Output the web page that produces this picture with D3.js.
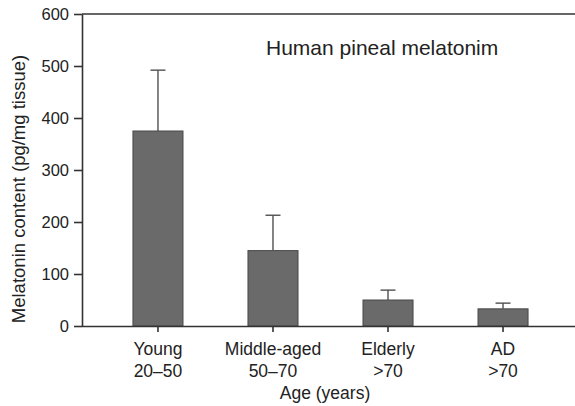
<!DOCTYPE html>
<html>
<head>
<meta charset="utf-8">
<script src="https://cdn.jsdelivr.net/npm/d3@7"></script>
<style>
  html, body { margin: 0; padding: 0; background: #fff; }
  svg { display: block; }
  text { font-family: "Liberation Sans", Arial, Helvetica, sans-serif; fill: #222; }
</style>
</head>
<body>
<svg id="chart" width="575" height="406"></svg>
<script>
// Pineal melatonin content by age group
const groups = ["Young", "Middle-aged", "Elderly", "AD"];
const ageRanges = ["20\u201350", "50\u201370", ">70", ">70"];
const means = [375, 145, 50, 33];
const errorTops = [492, 213, 69, 44];
const yTicks = [0, 100, 200, 300, 400, 500, 600];

const svg = d3.select("#chart");
const plotLeft = 82, plotRight = 579, plotTop = 14, plotBottom = 326;

const x = d3.scaleBand()
  .domain(groups)
  .range([plotLeft, plotRight])
  .paddingInner(0.565)
  .paddingOuter(0.443);

const y = d3.scaleLinear().domain([0, 600]).range([plotBottom, plotTop]);

const axisColor = "#333";

// frame: top rule
svg.append("line")
  .attr("x1", plotLeft).attr("x2", 575)
  .attr("y1", y(600)).attr("y2", y(600))
  .attr("stroke", axisColor).attr("stroke-width", 1.6);

// bars
svg.selectAll("rect.bar")
  .data(groups)
  .join("rect")
  .attr("class", "bar")
  .attr("x", d => x(d))
  .attr("width", x.bandwidth())
  .attr("y", (d, i) => y(means[i]))
  .attr("height", (d, i) => y(0) - y(means[i]))
  .attr("fill", "#6a6a6a")
  .attr("stroke", "#484848")
  .attr("stroke-width", 1);

// error bars (upper only)
const capHalf = 7.5;
const err = svg.append("g").attr("stroke", "#505050").attr("stroke-width", 1.4);
groups.forEach((g, i) => {
  const cx = x(g) + x.bandwidth() / 2;
  err.append("line")
    .attr("x1", cx).attr("x2", cx)
    .attr("y1", y(means[i])).attr("y2", y(errorTops[i]));
  err.append("line")
    .attr("x1", cx - capHalf).attr("x2", cx + capHalf)
    .attr("y1", y(errorTops[i])).attr("y2", y(errorTops[i]));
});

// y axis
const yAxis = svg.append("g")
  .attr("transform", `translate(${plotLeft},0)`)
  .call(d3.axisLeft(y).tickValues(yTicks).tickSize(8).tickPadding(5).tickSizeOuter(0));
yAxis.select(".domain").attr("stroke", axisColor).attr("stroke-width", 1.6);
yAxis.selectAll(".tick line").attr("stroke", axisColor).attr("stroke-width", 1.6);
yAxis.selectAll(".tick text")
  .attr("font-size", 16.5)
  .attr("font-family", "Liberation Sans, Arial, sans-serif")
  .attr("fill", "#222");

// x axis
const xAxis = svg.append("g")
  .attr("transform", `translate(0,${plotBottom})`)
  .call(d3.axisBottom(x).tickSize(6).tickSizeOuter(0).tickFormat(""));
xAxis.select(".domain").attr("d", `M${plotLeft},0.5H575`)
  .attr("stroke", axisColor).attr("stroke-width", 1.6);
xAxis.selectAll(".tick line").attr("stroke", axisColor).attr("stroke-width", 1.6);

// two-line category labels
groups.forEach((g, i) => {
  const cx = x(g) + x.bandwidth() / 2;
  const t = svg.append("text")
    .attr("text-anchor", "middle")
    .attr("font-size", 17.5);
  t.append("tspan").attr("x", cx).attr("y", 355).text(g);
  t.append("tspan").attr("x", cx).attr("y", 377).text(ageRanges[i]);
});

// axis titles
svg.append("text")
  .attr("x", 325).attr("y", 399)
  .attr("text-anchor", "middle")
  .attr("font-size", 17.5)
  .text("Age (years)");

svg.append("text")
  .attr("transform", "translate(25,189) rotate(-90)")
  .attr("text-anchor", "middle")
  .attr("font-size", 18.5)
  .text("Melatonin content (pg/mg tissue)");

// panel title
svg.append("text")
  .attr("x", 266).attr("y", 55)
  .attr("font-size", 21)
  .text("Human pineal melatonim");
</script>
</body>
</html>
